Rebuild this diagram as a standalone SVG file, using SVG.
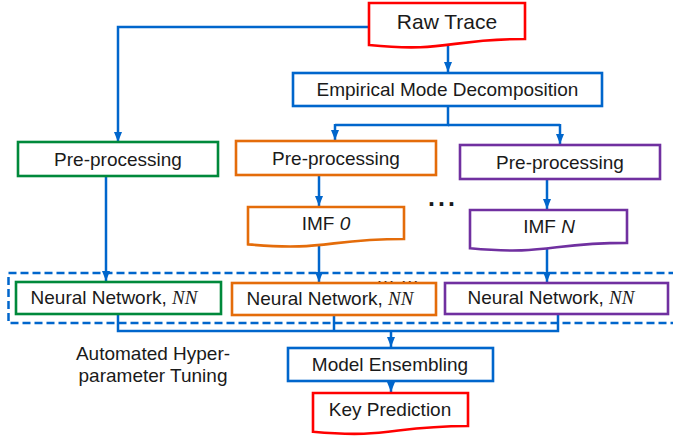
<svg xmlns="http://www.w3.org/2000/svg" width="673" height="437" viewBox="0 0 673 437">
<style>
  text { font-family: "Liberation Sans", Arial, sans-serif; font-size: 19px; fill: #1a1a1a; }
  .c { text-anchor: middle; }
  .nn { font-family: "Liberation Serif", "Times New Roman", serif; font-style: italic; }
  .it { font-style: italic; }
  .box { fill: #ffffff; stroke-width: 2.6; }
  .red { stroke: #ff0000; }
  .blue { stroke: #0066cc; }
  .green { stroke: #00893b; }
  .orange { stroke: #e46c0a; }
  .purple { stroke: #7030a0; }
  .conn { fill: none; stroke: #0066cc; stroke-width: 2.5; }
  .arr { marker-end: url(#ah); }
</style>
<defs>
  <marker id="ah" markerUnits="userSpaceOnUse" markerWidth="10" markerHeight="10" viewBox="0 0 10 10" refX="10" refY="5" orient="auto">
    <path d="M0,1 L10,5 L0,9 Z" fill="#0066cc"/>
  </marker>
</defs>
<rect width="673" height="437" fill="#ffffff"/>

<g id="hyperparameter-tuning-region">
  <rect x="8.5" y="273" width="700" height="50" fill="none" stroke="#0066cc" stroke-width="2.5" stroke-dasharray="8 4"/>
  <text class="c" x="153" y="360">Automated Hyper-</text>
  <text class="c" x="153" y="382">parameter Tuning</text>
</g>

<g id="connectors">
  <path class="conn arr" d="M369,27 H118 V142"/>
  <path class="conn arr" d="M448,44 V72"/>
  <path class="conn" d="M448,106 V125 H335"/>
  <path class="conn arr" d="M335,124 V140"/>
  <path class="conn" d="M448,125 H560"/>
  <path class="conn arr" d="M560,124 V144"/>
  <path class="conn arr" d="M106,176 V281"/>
  <path class="conn arr" d="M319,175 V206"/>
  <path class="conn arr" d="M547,179 V209"/>
  <path class="conn arr" d="M319,243 V282"/>
  <path class="conn arr" d="M547,246 V282"/>
  <path class="conn" d="M118,314 V331 H558 V314"/>
  <path class="conn" d="M334,315 V331"/>
  <path class="conn arr" d="M391,331 V347"/>
  <path class="conn arr" d="M391,381 V392"/>
</g>

<g id="raw-trace">
  <path class="box red" d="M369,3 H525 V39 C447,39 447,52.8 369,45 Z"/>
  <text class="c" x="447" y="29" style="font-size:21px">Raw Trace</text>
</g>

<g id="emd">
  <rect class="box blue" x="293" y="73" width="309" height="33"/>
  <text class="c" x="447.5" y="96">Empirical Mode Decomposition</text>
</g>

<g id="preproc-raw">
  <rect class="box green" x="18" y="142" width="200" height="34"/>
  <text class="c" x="118" y="165.5">Pre-processing</text>
</g>

<g id="preproc-imf0">
  <rect class="box orange" x="236" y="141" width="200" height="34"/>
  <text class="c" x="336" y="165">Pre-processing</text>
</g>

<g id="preproc-imfN">
  <rect class="box purple" x="460" y="145" width="200" height="34"/>
  <text class="c" x="560" y="168.5">Pre-processing</text>
</g>

<g id="ellipsis-mid">
  <text x="428" y="206" style="font-size:25px;font-weight:bold;letter-spacing:3px">...</text>
</g>

<g id="imf0">
  <path class="box orange" d="M248,207 H404 V239 C326,239 326,251.3 248,244.4 Z"/>
  <text class="c" x="326" y="230">IMF <tspan class="it">0</tspan></text>
</g>

<g id="imfN">
  <path class="box purple" d="M470,210 H627 V242.9 C548.5,242.9 548.5,255.4 470,248.3 Z"/>
  <text class="c" x="549" y="232.5">IMF <tspan class="it">N</tspan></text>
</g>

<g id="ellipsis-nn">
  <text x="376" y="283" style="font-size:19px">… …</text>
</g>

<g id="nn-raw">
  <rect class="box green" x="16" y="282" width="205" height="32"/>
  <text class="c" x="114" y="304">Neural Network, <tspan class="nn">NN</tspan></text>
</g>

<g id="nn-imf0">
  <rect class="box orange" x="232" y="283" width="204" height="32"/>
  <text class="c" x="330" y="304.5">Neural Network, <tspan class="nn">NN</tspan></text>
</g>

<g id="nn-imfN">
  <rect class="box purple" x="445" y="283" width="223" height="31"/>
  <text class="c" x="551" y="304">Neural Network, <tspan class="nn">NN</tspan></text>
</g>

<g id="model-ensembling">
  <rect class="box blue" x="288" y="348" width="205" height="33"/>
  <text class="c" x="390" y="371">Model Ensembling</text>
</g>

<g id="key-prediction">
  <path class="box red" d="M313,393 H468 V426 C390.5,426 390.5,438.9 313,431.8 Z"/>
  <text class="c" x="390" y="416">Key Prediction</text>
</g>
</svg>
